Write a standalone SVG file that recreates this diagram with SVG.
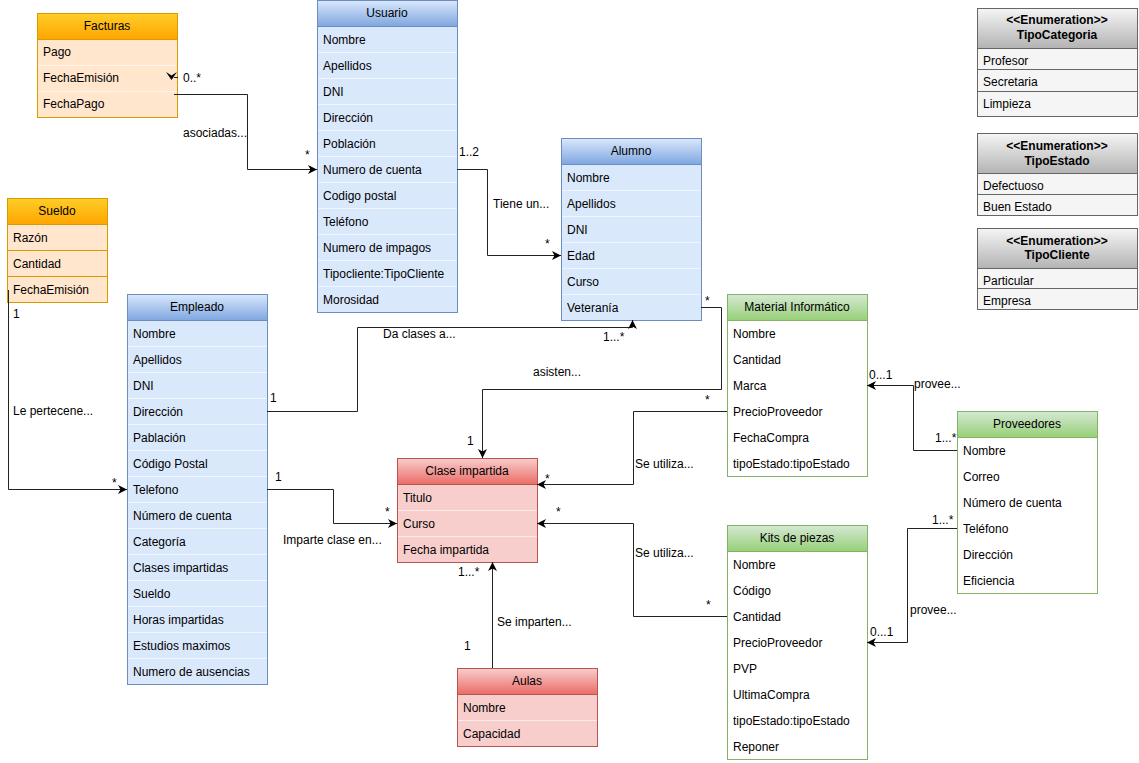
<svg xmlns="http://www.w3.org/2000/svg" width="1139" height="763" viewBox="0 0 1139 763">
<defs>
<linearGradient id="gBlue" x1="0" y1="0" x2="0" y2="1"><stop offset="0" stop-color="#dae8fc"/><stop offset="1" stop-color="#7ea6e0"/></linearGradient>
<linearGradient id="gOrange" x1="0" y1="0" x2="0" y2="1"><stop offset="0" stop-color="#ffcd28"/><stop offset="1" stop-color="#ffa500"/></linearGradient>
<linearGradient id="gRed" x1="0" y1="0" x2="0" y2="1"><stop offset="0" stop-color="#f8cecc"/><stop offset="1" stop-color="#ea6b66"/></linearGradient>
<linearGradient id="gGreen" x1="0" y1="0" x2="0" y2="1"><stop offset="0" stop-color="#d5e8d4"/><stop offset="1" stop-color="#97d077"/></linearGradient>
<linearGradient id="gGray" x1="0" y1="0" x2="0" y2="1"><stop offset="0" stop-color="#f5f5f5"/><stop offset="1" stop-color="#b3b3b3"/></linearGradient>
<marker id="arr" markerUnits="userSpaceOnUse" markerWidth="10" markerHeight="9" refX="9" refY="4.5" orient="auto">
<path d="M0,0 L9,4.5 L0,9 L2.5,4.5 Z" fill="#000"/>
</marker>
</defs>
<style>
text{font-family:"Liberation Sans",Arial,sans-serif;font-size:12px;fill:#000}
.c{text-anchor:middle}
.b{font-weight:bold}
.bB{fill:#dae8fc;stroke:#6c8ebf}
.hB{fill:url(#gBlue);stroke:#6c8ebf}
.bO{fill:#ffe6cc;stroke:#d79b00}
.hO{fill:url(#gOrange);stroke:#d79b00}
.bR{fill:#f8cecc;stroke:#b85450}
.hR{fill:url(#gRed);stroke:#b85450}
.bG{fill:#ffffff;stroke:#82b366}
.hG{fill:url(#gGreen);stroke:#82b366}
.bE{fill:#f5f5f5;stroke:#666666}
.hE{fill:url(#gGray);stroke:#666666}
.sepL{stroke:#ffffff;stroke-opacity:0.6;stroke-width:1}
.sepO{stroke:#d79b00;stroke-width:1}
.sepE{stroke:#666666;stroke-width:1}
.edge{fill:none;stroke:#222;stroke-width:1}
.arrow{marker-end:url(#arr)}
</style>

<g id="facturas">
<rect class="bO" x="37.5" y="13.5" width="140" height="104"/>
<rect class="hO" x="37.5" y="13.5" width="140" height="26"/>
<line class="sepL" x1="38" y1="65.5" x2="177" y2="65.5"/>
<line class="sepL" x1="38" y1="91.5" x2="177" y2="91.5"/>
<text class="c" x="107" y="30">Facturas</text>
<text x="43" y="56">Pago</text>
<text x="43" y="82">FechaEmisión</text>
<text x="43" y="108">FechaPago</text>
</g>

<g id="usuario">
<rect class="bB" x="317.5" y="0.5" width="140" height="312"/>
<rect class="hB" x="317.5" y="0.5" width="140" height="26"/>
<path class="sepL" d="M318,52.5H457M318,78.5H457M318,104.5H457M318,130.5H457M318,156.5H457M318,182.5H457M318,208.5H457M318,234.5H457M318,260.5H457M318,286.5H457"/>
<text class="c" x="387" y="17">Usuario</text>
<text x="323" y="44">Nombre</text>
<text x="323" y="70">Apellidos</text>
<text x="323" y="96">DNI</text>
<text x="323" y="122">Dirección</text>
<text x="323" y="148">Población</text>
<text x="323" y="174">Numero de cuenta</text>
<text x="323" y="200">Codigo postal</text>
<text x="323" y="226">Teléfono</text>
<text x="323" y="252">Numero de impagos</text>
<text x="323" y="278">Tipocliente:TipoCliente</text>
<text x="323" y="304">Morosidad</text>
</g>

<g id="alumno">
<rect class="bB" x="561.5" y="138.5" width="140" height="182"/>
<rect class="hB" x="561.5" y="138.5" width="140" height="26"/>
<path class="sepL" d="M562,190.5H701M562,216.5H701M562,242.5H701M562,268.5H701M562,294.5H701"/>
<text class="c" x="631" y="155">Alumno</text>
<text x="567" y="182">Nombre</text>
<text x="567" y="208">Apellidos</text>
<text x="567" y="234">DNI</text>
<text x="567" y="260">Edad</text>
<text x="567" y="286">Curso</text>
<text x="567" y="312">Veteranía</text>
</g>

<g id="sueldo">
<rect class="bO" x="7.5" y="198.5" width="100" height="104"/>
<rect class="hO" x="7.5" y="198.5" width="100" height="26"/>
<line class="sepO" x1="8" y1="250.5" x2="107" y2="250.5"/>
<line class="sepO" x1="8" y1="276.5" x2="107" y2="276.5"/>
<text class="c" x="57" y="215">Sueldo</text>
<text x="13" y="242">Razón</text>
<text x="13" y="268">Cantidad</text>
<text x="13" y="294">FechaEmisión</text>
</g>

<g id="empleado">
<rect class="bB" x="127.5" y="294.5" width="140" height="390"/>
<rect class="hB" x="127.5" y="294.5" width="140" height="26"/>
<path class="sepL" d="M128,346.5H267M128,372.5H267M128,398.5H267M128,424.5H267M128,450.5H267M128,476.5H267M128,502.5H267M128,528.5H267M128,554.5H267M128,580.5H267M128,606.5H267M128,632.5H267M128,658.5H267"/>
<text class="c" x="197" y="311">Empleado</text>
<text x="133" y="338">Nombre</text>
<text x="133" y="364">Apellidos</text>
<text x="133" y="390">DNI</text>
<text x="133" y="416">Dirección</text>
<text x="133" y="442">Pablación</text>
<text x="133" y="468">Código Postal</text>
<text x="133" y="494">Telefono</text>
<text x="133" y="520">Número de cuenta</text>
<text x="133" y="546">Categoría</text>
<text x="133" y="572">Clases impartidas</text>
<text x="133" y="598">Sueldo</text>
<text x="133" y="624">Horas impartidas</text>
<text x="133" y="650">Estudios maximos</text>
<text x="133" y="676">Numero de ausencias</text>
</g>

<g id="clase-impartida">
<rect class="bR" x="397.5" y="458.5" width="140" height="104"/>
<rect class="hR" x="397.5" y="458.5" width="140" height="26"/>
<line class="sepL" x1="398" y1="510.5" x2="537" y2="510.5"/>
<line class="sepL" x1="398" y1="536.5" x2="537" y2="536.5"/>
<text class="c" x="467" y="475">Clase impartida</text>
<text x="403" y="502">Titulo</text>
<text x="403" y="528">Curso</text>
<text x="403" y="554">Fecha impartida</text>
</g>

<g id="aulas">
<rect class="bR" x="457.5" y="668.5" width="140" height="78"/>
<rect class="hR" x="457.5" y="668.5" width="140" height="26"/>
<line class="sepL" x1="458" y1="720.5" x2="597" y2="720.5"/>
<text class="c" x="527" y="685">Aulas</text>
<text x="463" y="712">Nombre</text>
<text x="463" y="738">Capacidad</text>
</g>

<g id="material-informatico">
<rect class="bG" x="727.5" y="294.5" width="140" height="182"/>
<rect class="hG" x="727.5" y="294.5" width="140" height="26"/>
<text class="c" x="797" y="311">Material Informático</text>
<text x="733" y="338">Nombre</text>
<text x="733" y="364">Cantidad</text>
<text x="733" y="390">Marca</text>
<text x="733" y="416">PrecioProveedor</text>
<text x="733" y="442">FechaCompra</text>
<text x="733" y="468">tipoEstado:tipoEstado</text>
</g>

<g id="kits-de-piezas">
<rect class="bG" x="727.5" y="525.5" width="140" height="234"/>
<rect class="hG" x="727.5" y="525.5" width="140" height="26"/>
<text class="c" x="797" y="542">Kits de piezas</text>
<text x="733" y="569">Nombre</text>
<text x="733" y="595">Código</text>
<text x="733" y="621">Cantidad</text>
<text x="733" y="647">PrecioProveedor</text>
<text x="733" y="673">PVP</text>
<text x="733" y="699">UltimaCompra</text>
<text x="733" y="725">tipoEstado:tipoEstado</text>
<text x="733" y="751">Reponer</text>
</g>

<g id="proveedores">
<rect class="bG" x="957.5" y="411.5" width="140" height="182"/>
<rect class="hG" x="957.5" y="411.5" width="140" height="26"/>
<text class="c" x="1027" y="428">Proveedores</text>
<text x="963" y="455">Nombre</text>
<text x="963" y="481">Correo</text>
<text x="963" y="507">Número de cuenta</text>
<text x="963" y="533">Teléfono</text>
<text x="963" y="559">Dirección</text>
<text x="963" y="585">Eficiencia</text>
</g>

<g id="tipo-categoria">
<rect class="bE" x="977.5" y="8.5" width="160" height="108"/>
<rect class="hE" x="977.5" y="8.5" width="160" height="40"/>
<line class="sepE" x1="978" y1="69.5" x2="1137" y2="69.5"/>
<line class="sepE" x1="978" y1="91.5" x2="1137" y2="91.5"/>
<text class="c b" x="1057" y="24">&lt;&lt;Enumeration&gt;&gt;</text>
<text class="c b" x="1057" y="39">TipoCategoria</text>
<text x="983" y="65">Profesor</text>
<text x="983" y="86">Secretaria</text>
<text x="983" y="108">Limpieza</text>
</g>

<g id="tipo-estado">
<rect class="bE" x="977.5" y="133.5" width="160" height="82"/>
<rect class="hE" x="977.5" y="133.5" width="160" height="40"/>
<line class="sepE" x1="978" y1="194.5" x2="1137" y2="194.5"/>
<text class="c b" x="1057" y="150">&lt;&lt;Enumeration&gt;&gt;</text>
<text class="c b" x="1057" y="165">TipoEstado</text>
<text x="983" y="190">Defectuoso</text>
<text x="983" y="211">Buen Estado</text>
</g>

<g id="tipo-cliente">
<rect class="bE" x="977.5" y="228.5" width="160" height="81"/>
<rect class="hE" x="977.5" y="228.5" width="160" height="40"/>
<line class="sepE" x1="978" y1="288.5" x2="1137" y2="288.5"/>
<text class="c b" x="1057" y="245">&lt;&lt;Enumeration&gt;&gt;</text>
<text class="c b" x="1057" y="259">TipoCliente</text>
<text x="983" y="285">Particular</text>
<text x="983" y="305">Empresa</text>
</g>

<g id="connectors">
<path class="edge arrow" d="M174,94.5H247.5V169.5H317"/>
<path d="M166,72 L171.5,75.5 L177,72 L171.5,80 Z" fill="#000"/>
<path class="edge" d="M174,77.5H178"/>
<path class="edge arrow" d="M457,169.5H487.5V255.5H561"/>
<path class="edge arrow" d="M8.5,290V489.5H127"/>
<path class="edge arrow" d="M267,411.5H357.5V327.5H632.5V320"/>
<path class="edge arrow" d="M701,307.5H721.5V389.5H482.5V458"/>
<path class="edge arrow" d="M267,489.5H333.5V523.5H397"/>
<path class="edge arrow" d="M727,411.5H633.5V484.5H537"/>
<path class="edge arrow" d="M727,616.5H633.5V523.5H537"/>
<path class="edge arrow" d="M492.5,668V562"/>
<path class="edge arrow" d="M957,450.5H913.5V385.5H867"/>
<path class="edge arrow" d="M957,528.5H907.5V642.5H867"/>

<text x="183" y="82">0..*</text>
<text x="183" y="137">asociadas...</text>
<text x="305" y="159">*</text>
<text x="459" y="156">1..2</text>
<text x="493" y="208">Tiene un...</text>
<text x="545" y="248">*</text>
<text x="13" y="318">1</text>
<text x="13" y="415">Le pertecene...</text>
<text x="112" y="487">*</text>
<text x="270" y="402">1</text>
<text x="383" y="338">Da clases a...</text>
<text x="603" y="341">1...*</text>
<text x="705" y="305">*</text>
<text x="533" y="376">asisten...</text>
<text x="467" y="445">1</text>
<text x="275" y="481">1</text>
<text x="385" y="516">*</text>
<text x="283" y="544">Imparte clase en...</text>
<text x="705" y="404">*</text>
<text x="635" y="468">Se utiliza...</text>
<text x="545" y="483">*</text>
<text x="556" y="516">*</text>
<text x="635" y="557">Se utiliza...</text>
<text x="706" y="609">*</text>
<text x="458" y="576">1...*</text>
<text x="497" y="626">Se imparten...</text>
<text x="464" y="650">1</text>
<text x="869" y="379">0...1</text>
<text x="914" y="388">provee...</text>
<text x="935" y="442">1...*</text>
<text x="932" y="524">1...*</text>
<text x="910" y="614">provee...</text>
<text x="870" y="636">0...1</text>
</g>
</svg>
